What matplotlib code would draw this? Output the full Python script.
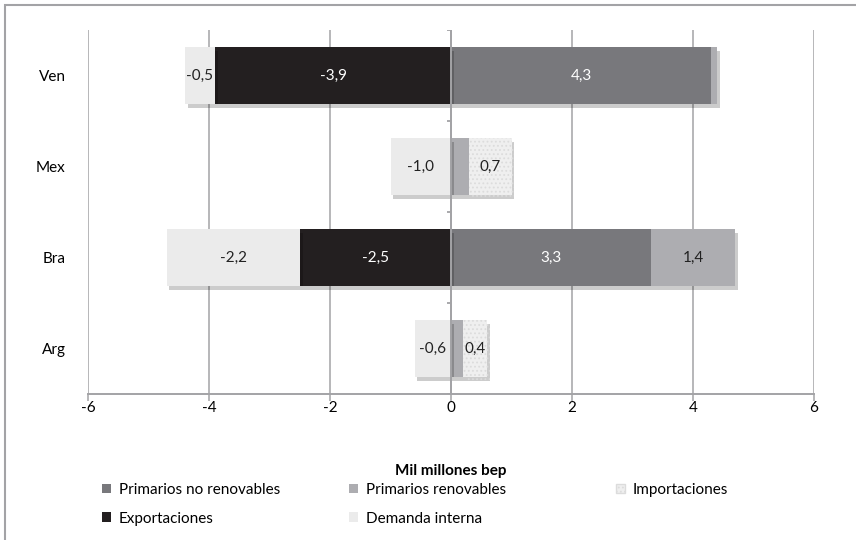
"""
Balance energético por país (barras apiladas divergentes)
"""
import matplotlib
matplotlib.use('Agg')
import matplotlib.pyplot as plt
import matplotlib.patheffects as pe
from matplotlib.patches import Rectangle, Patch
import numpy as np

plt.rcParams['font.family'] = ['Lato', 'DejaVu Sans']

# Datos (mil millones bep)
paises = ['Ven', 'Mex', 'Bra', 'Arg']
primarios_no_renov = [4.3, 0.0, 3.3, 0.0]
primarios_renov = [0.1, 0.3, 1.4, 0.2]
importaciones = [0.0, 0.7, 0.0, 0.4]
exportaciones = [-3.9, 0.0, -2.5, 0.0]
demanda_interna = [-0.5, -1.0, -2.2, -0.6]

xticks = [-6, -4, -2, 0, 2, 4, 6]

C_PNR = '#78787c'
C_PR = '#adadb1'
C_IMP = '#efefef'
C_EXP = '#231f20'
C_DI = '#ebebeb'
GRIS = '#a3a3a6'

fig = plt.figure(figsize=(8.56, 5.40), dpi=100)
ax = fig.add_axes([88 / 856, 1 - 394 / 540, (814 - 88) / 856, (394 - 30) / 540])

# marco exterior del gráfico
fig.add_artist(Rectangle((5 / 856, -0.2), 1.3, 1.2 - 5 / 540,
                         transform=fig.transFigure, fill=False,
                         edgecolor=GRIS, linewidth=1.5, zorder=0))

y = np.arange(len(paises))[::-1]
alto = 0.63
sombra = [pe.SimplePatchShadow(offset=(2, -3), shadow_rgbFace='#000000', alpha=0.2),
          pe.Normal()]


def apilar(series, colores, hatches, color_texto):
    base = np.zeros(len(paises))
    for vals, col, hat, ct in zip(series, colores, hatches, color_texto):
        vals = np.array(vals)
        bars = ax.barh(y, vals, left=base, height=alto, color=col,
                       edgecolor='#dcdcdc' if hat else 'none', hatch=hat,
                       linewidth=0, zorder=3)
        for b in bars:
            b.set_path_effects(sombra)
        for yi, v, b0 in zip(y, vals, base):
            if abs(v) >= 0.35:
                ax.text(b0 + v / 2, yi, f'{v:.1f}'.replace('.', ','),
                        ha='center', va='center', fontsize=11, color=ct, zorder=5)
        base = base + vals


plt.rcParams['hatch.linewidth'] = 0.8
apilar([primarios_no_renov, primarios_renov, importaciones],
       [C_PNR, C_PR, C_IMP], [None, None, '....'], ['white', '#222222', '#222222'])
apilar([exportaciones, demanda_interna],
       [C_EXP, C_DI], [None, None], ['white', '#222222'])

# ejes y rejilla
ax.set_xlim(-6, 6)
ax.set_ylim(-0.5, len(paises) - 0.5)
ax.set_xticks(xticks)
ax.set_xticklabels([str(t) for t in xticks], fontsize=11)
ax.grid(axis='x', color=GRIS, linewidth=1.1, zorder=0)
ax.set_axisbelow(True)
ax.set_yticks(y)
ax.set_yticklabels(paises, fontsize=11)
ax.tick_params(axis='y', length=0, pad=16)
ax.tick_params(axis='x', length=5, color=GRIS, width=1.1, pad=0)
for s in ['top', 'right', 'left']:
    ax.spines[s].set_visible(False)
ax.spines['bottom'].set_color(GRIS)
ax.spines['bottom'].set_linewidth(1.4)

# eje de categorías en x = 0
ax.axvline(0, color=GRIS, linewidth=1.4, zorder=4)
ax.hlines(np.arange(len(paises) + 1) - 0.5, -0.07, 0, color=GRIS, linewidth=1.3, zorder=4)

ax.set_xlabel('Mil millones bep', fontsize=11, fontweight='bold')
ax.xaxis.set_label_coords(0.5, -(464 - 394) / 364)

# leyenda en tres columnas
entradas = [
    [(C_PNR, None, 'Primarios no renovables'), (C_EXP, None, 'Exportaciones')],
    [(C_PR, None, 'Primarios renovables'), (C_DI, None, 'Demanda interna')],
    [(C_IMP, '....', 'Importaciones')],
]
for x0, col in zip([102 / 856, 349 / 856, 616 / 856], entradas):
    handles = [Patch(facecolor=c, hatch=h, edgecolor='#dcdcdc' if h else 'none', label=l)
               for c, h, l in col]
    fig.legend(handles=handles, loc='upper left', bbox_to_anchor=(x0, 1 - 483 / 540),
               frameon=False, fontsize=11, handlelength=0.6, handleheight=0.6,
               handletextpad=0.5, labelspacing=0.95, borderpad=0, borderaxespad=0)

fig.savefig('out.png', dpi=100, facecolor='white')
